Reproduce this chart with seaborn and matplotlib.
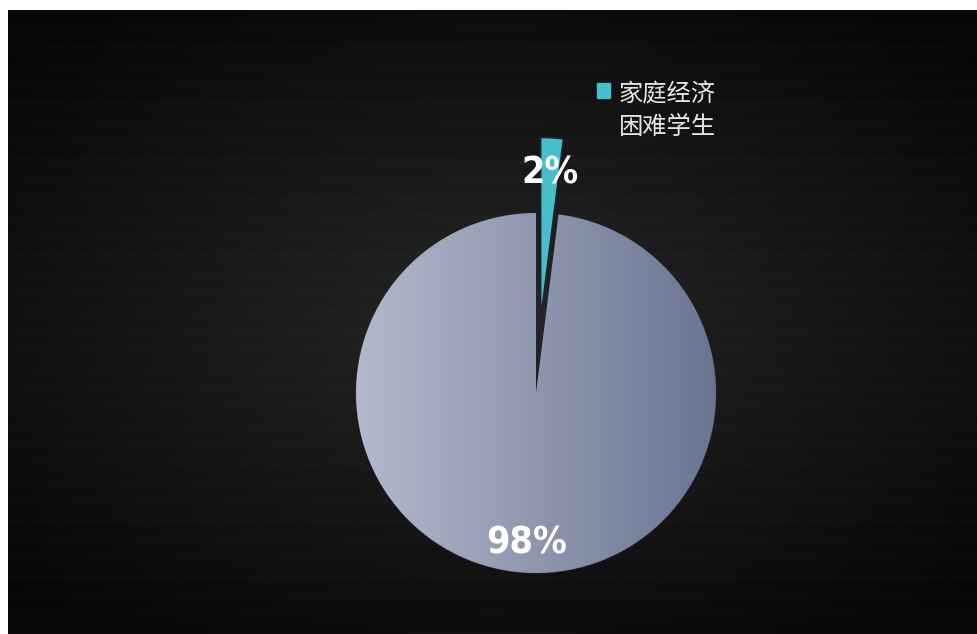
import numpy as np
import matplotlib
matplotlib.use("Agg")
import matplotlib.pyplot as plt
import seaborn as sns
from matplotlib.colors import LinearSegmentedColormap
from matplotlib.patches import Rectangle
from matplotlib.legend_handler import HandlerPatch

sns.set_style("dark")
plt.rcParams['font.family'] = ['Noto Sans CJK SC', 'DejaVu Sans']

# data
labels = ['家庭经济\n困难学生', '其他学生']
values = [2, 98]
pct_labels = ['2%', '98%']
slice_colors = ['#48bdcb', '#9aa1b8']

W, H = 978, 634
fig = plt.figure(figsize=(W / 100, H / 100), dpi=100, facecolor='white')

# dark brushed background
bg = fig.add_axes([8 / W, 0, (W - 8) / W, (H - 10) / H])
bg.set_axis_off()
yy, xx = np.mgrid[0:1:400j, 0:1:600j]
d = np.sqrt(((xx - 0.5) / 0.7) ** 2 + ((yy - 0.5) / 0.6) ** 2)
shade = np.clip(0.15 - 0.12 * d, 0.03, 0.16)
streak = 0.006 * np.sin(yy * 900) + 0.004 * np.sin(yy * 2300 + 1.3)
shade = np.clip(shade + streak, 0, 1)
bg.imshow(np.dstack([shade] * 3), aspect='auto', extent=[0, 1, 0, 1])
bg.set_xlim(0, 1)
bg.set_ylim(0, 1)

# pie axes: whole figure, 1 data unit = R pixels
cx, cy, R = 536, H - 393, 180
ax = fig.add_axes([0, 0, 1, 1])
ax.set_axis_off()
ax.patch.set_alpha(0)

explode = [0.42, 0]
wedges, _ = ax.pie(values, colors=slice_colors, startangle=90, counterclock=False,
                   explode=explode, radius=1,
                   wedgeprops=dict(edgecolor='#20242c', linewidth=1.0))
ax.set_xlim(-cx / R, (W - cx) / R)
ax.set_ylim(-cy / R, (H - cy) / R)
ax.set_aspect('auto')

# gradient fill on the large slice
cmap = LinearSegmentedColormap.from_list('g', ['#b3b9cc', '#6b7592'])
grad = np.linspace(0, 1, 256).reshape(1, -1)
im = ax.imshow(grad, cmap=cmap, extent=[-1, 1, -1, 1], aspect='auto', zorder=wedges[1].get_zorder() + 0.1)
im.set_clip_path(wedges[1])

# percentage labels
label_dist = [0.80, 0.835]
for w, txt, ex, dist in zip(wedges, pct_labels, explode, label_dist):
    ang = np.deg2rad((w.theta1 + w.theta2) / 2)
    r = ex + dist
    ax.text(r * np.cos(ang), r * np.sin(ang), txt, ha='center', va='center',
            color='white', fontsize=27, fontweight='bold', fontstretch='condensed',
            family=['DejaVu Sans'], zorder=10)


# legend only for the highlighted slice, square next to the first line
def top_square(legend, orig_handle, xdescent, ydescent, width, height, fontsize):
    return Rectangle((-xdescent, -ydescent + fontsize * 0.9), width, height)


handle = Rectangle((0, 0), 1, 1, color=slice_colors[0])
leg = fig.legend([handle], [labels[0]], loc='upper left', bbox_to_anchor=(575 / W, 1 - 60 / H),
                 frameon=False, fontsize=17.5, handlelength=0.55, handleheight=0.55,
                 handletextpad=0.35, labelcolor='#e6e6e6',
                 handler_map={Rectangle: HandlerPatch(patch_func=top_square)})
for t in leg.get_texts():
    t.set_linespacing(1.3)

fig.savefig('out.png', dpi=100, facecolor='white')
